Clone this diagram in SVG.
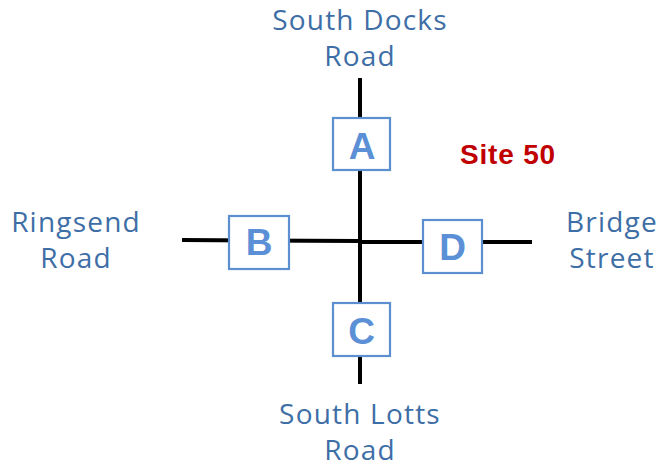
<svg xmlns="http://www.w3.org/2000/svg" width="663" height="470" viewBox="0 0 663 470">
<style>
.road{stroke:#000;stroke-width:4;fill:none}
.box{fill:#fff;stroke:#5b8fd0;stroke-width:2.2}
.lbl{font-family:"Liberation Sans",Arial,sans-serif;font-weight:bold;font-size:37px;fill:#5b8fd6;text-anchor:middle}
.name{font-family:"Open Sans","Liberation Sans",sans-serif;font-size:28px;letter-spacing:1.2px;fill:#3e6ea6;text-anchor:middle}
.site{font-family:"Liberation Sans",Arial,sans-serif;font-weight:bold;font-size:28px;letter-spacing:0.8px;fill:#c00000;text-anchor:middle}
</style>
<rect width="663" height="470" fill="#fff"/>
<g id="connectors">
<line class="road" x1="360" y1="78" x2="360" y2="384"/>
<line class="road" x1="182" y1="240" x2="360" y2="241"/>
<line class="road" x1="360" y1="242" x2="532" y2="242"/>
</g>
<g id="nodeA"><rect class="box" x="333" y="118" width="57" height="52"/><text class="lbl" x="362" y="159">A</text></g>
<g id="nodeB"><rect class="box" x="229" y="216" width="60" height="53"/><text class="lbl" x="259" y="255">B</text></g>
<g id="nodeC"><rect class="box" x="333" y="303" width="57" height="53"/><text class="lbl" x="361.5" y="344">C</text></g>
<g id="nodeD"><rect class="box" x="423" y="220" width="59" height="53"/><text class="lbl" x="452.5" y="260">D</text></g>
<g id="labels">
<text class="name" x="360" y="30">South Docks</text>
<text class="name" x="360" y="66">Road</text>
<text class="name" x="76" y="232">Ringsend</text>
<text class="name" x="76" y="268">Road</text>
<text class="name" x="612" y="232">Bridge</text>
<text class="name" x="612" y="268">Street</text>
<text class="name" x="360" y="424">South Lotts</text>
<text class="name" x="360" y="460">Road</text>
<text class="site" x="508" y="164">Site 50</text>
</g>
</svg>
